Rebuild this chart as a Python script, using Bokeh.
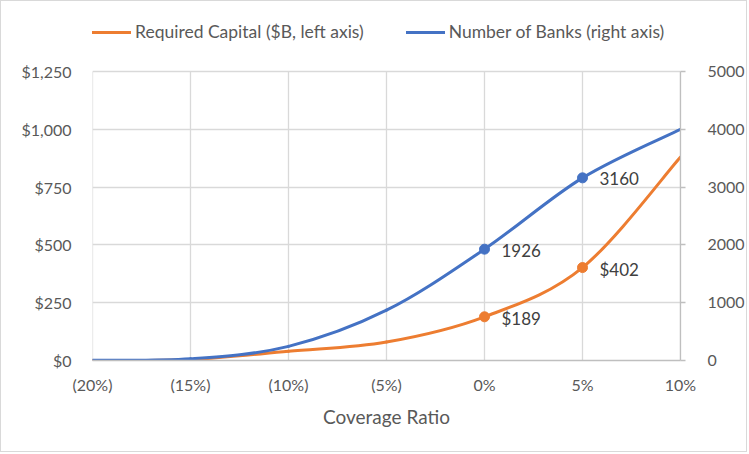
from bokeh.plotting import figure
from bokeh.models import (Range1d, LinearAxis, FixedTicker, NumeralTickFormatter,
                          Legend, LegendItem, ColumnDataSource)
from bokeh.core.properties import value
from bokeh.embed import file_html
from bokeh.resources import INLINE

# ---- data ----
coverage = [-20, -15, -10, -5, 0, 5, 10]
x_tick_labels = ["(20%)", "(15%)", "(10%)", "(5%)", "0%", "5%", "10%"]
capital = [0, 4, 40, 80, 189, 402, 880]          # $B, left axis
banks = [5, 30, 245, 870, 1926, 3160, 4000]      # count, right axis
capital_ticks = [0, 250, 500, 750, 1000, 1250]
bank_ticks = [0, 1000, 2000, 3000, 4000, 5000]
labeled_idx = [4, 5]

ORANGE = "#ED7D31"
BLUE = "#4472C4"
TXT = "#595959"
GRID = "#d9d9d9"
FONT = "Lato"

# layout (pixels inside the figure)
W, H = 747, 452
FL, FR, FB = 91, 679, 359      # frame left/right/bottom
PLOT_TOP = 70                  # where the top gridline (max tick) sits
FT = 10                        # frame top (extended to host the legend)
cap_max = capital_ticks[-1]
bank_max = bank_ticks[-1]
scale = (FB - FT) / (FB - PLOT_TOP)

p = figure(width=W, height=H, output_backend="svg", toolbar_location=None,
           x_range=Range1d(coverage[0], coverage[-1]),
           y_range=Range1d(0, cap_max * scale),
           min_border_left=FL, min_border_right=W - FR,
           min_border_top=FT, min_border_bottom=H - FB)
p.styles = {"border": "1px solid #d9d9d9"}
p.extra_y_ranges = {"right": Range1d(0, bank_max * scale)}
p.outline_line_color = None
p.background_fill_color = "white"
p.border_fill_color = "white"

# x axis
xa = p.xaxis[0]
xa.ticker = FixedTicker(ticks=coverage)
xa.major_label_overrides = dict(zip(coverage, x_tick_labels))
xa.axis_line_color = "#bfbfbf"
xa.axis_line_width = 1.3
xa.major_tick_line_color = None
xa.minor_tick_line_color = None
xa.major_tick_out = 0
xa.major_tick_in = 0
xa.major_label_standoff = 14
xa.major_label_text_font = FONT
xa.major_label_text_font_size = "16px"
xa.major_label_text_color = TXT
xa.axis_label = "Coverage Ratio"
xa.axis_label_text_font = FONT
xa.axis_label_text_font_style = "normal"
xa.axis_label_text_font_size = "19px"
xa.axis_label_text_color = TXT
xa.axis_label_standoff = 8

# left axis
ya = p.yaxis[0]
ya.ticker = FixedTicker(ticks=capital_ticks)
ya.formatter = NumeralTickFormatter(format="$0,0")
ya.axis_line_color = None
ya.major_tick_line_color = None
ya.minor_tick_line_color = None
ya.major_tick_out = 0
ya.major_tick_in = 0
ya.major_label_standoff = 21
ya.major_label_text_font = FONT
ya.major_label_text_font_size = "16px"
ya.major_label_text_color = TXT

# right axis
ra = LinearAxis(y_range_name="right", ticker=FixedTicker(ticks=bank_ticks),
                formatter=NumeralTickFormatter(format="0"),
                bounds=(bank_ticks[0], bank_max))
ra.axis_line_color = "#bfbfbf"
ra.axis_line_width = 1.3
ra.major_tick_line_color = "#bfbfbf"
ra.major_tick_line_width = 1.3
ra.major_tick_out = 5
ra.major_tick_in = 0
ra.minor_tick_line_color = None
ra.major_label_standoff = 22
ra.major_label_text_font = FONT
ra.major_label_text_font_size = "16px"
ra.major_label_text_color = TXT
p.add_layout(ra, "right")

# gridlines: horizontal from the left ticker, vertical only up to the top tick
p.ygrid[0].grid_line_color = GRID
p.ygrid[0].grid_line_width = 1.3
p.xgrid[0].visible = False
p.segment(x0=coverage, y0=[capital_ticks[0]] * len(coverage),
          x1=coverage, y1=[cap_max] * len(coverage),
          line_color=GRID, line_width=1.3, level="underlay")


def smooth_segments(xs, ys):
    """Excel-style smoothed line: cubic Bezier control points from neighbours."""
    n = len(xs)
    d = {k: [] for k in ("x0", "y0", "x1", "y1", "cx0", "cy0", "cx1", "cy1")}
    for i in range(n - 1):
        xp, yp = (xs[i - 1], ys[i - 1]) if i > 0 else (xs[i], ys[i])
        xn, yn = (xs[i + 2], ys[i + 2]) if i + 2 < n else (xs[i + 1], ys[i + 1])
        d["x0"].append(xs[i]); d["y0"].append(ys[i])
        d["x1"].append(xs[i + 1]); d["y1"].append(ys[i + 1])
        d["cx0"].append(xs[i] + (xs[i + 1] - xp) / 6)
        d["cy0"].append(ys[i] + (ys[i + 1] - yp) / 6)
        d["cx1"].append(xs[i + 1] - (xn - xs[i]) / 6)
        d["cy1"].append(ys[i + 1] - (yn - ys[i]) / 6)
    return ColumnDataSource(d)


r_cap = p.bezier(x0="x0", y0="y0", x1="x1", y1="y1", cx0="cx0", cy0="cy0",
                 cx1="cx1", cy1="cy1", source=smooth_segments(coverage, capital),
                 line_color=ORANGE, line_width=3, line_cap="round")
r_bank = p.bezier(x0="x0", y0="y0", x1="x1", y1="y1", cx0="cx0", cy0="cy0",
                  cx1="cx1", cy1="cy1", source=smooth_segments(coverage, banks),
                  line_color=BLUE, line_width=3, line_cap="round",
                  y_range_name="right")

# markers + data labels
lx = [coverage[i] for i in labeled_idx]
cap_y = [capital[i] for i in labeled_idx]
bank_y = [banks[i] for i in labeled_idx]
p.scatter(lx, cap_y, size=10, fill_color=ORANGE, line_color=ORANGE)
p.scatter(lx, bank_y, size=10, fill_color=BLUE, line_color=BLUE, y_range_name="right")
p.text(lx, cap_y, text=[f"${v}" for v in cap_y], x_offset=17, y_offset=2,
       text_baseline="middle", text_font=value(FONT), text_font_size="17px",
       text_color="#404040")
p.text(lx, bank_y, text=[str(v) for v in bank_y], x_offset=17, y_offset=1,
       text_baseline="middle", text_font=value(FONT), text_font_size="17px",
       text_color="#404040", y_range_name="right")

legend = Legend(items=[LegendItem(label="Required Capital ($B, left axis)", renderers=[r_cap]),
                       LegendItem(label="Number of Banks (right axis)", renderers=[r_bank])],
                orientation="horizontal", location=(0, FB - 41),
                border_line_color=None, background_fill_alpha=0,
                padding=0, margin=0, spacing=42, glyph_width=39, glyph_height=20,
                label_standoff=4, label_text_font=FONT, label_text_font_size="17.5px",
                label_text_color=TXT)
p.add_layout(legend)

open("out.html", "w").write(file_html(p, INLINE))
